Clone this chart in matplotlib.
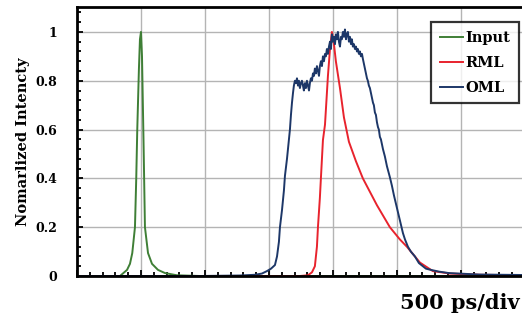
"""Normalized pulse intensity: input vs RML vs OML (500 ps/div)."""

import matplotlib

matplotlib.use("Agg")
import matplotlib.pyplot as plt
from matplotlib.ticker import MultipleLocator

# time in ps, intensity normalized
input_t = [0, 336, 391, 414, 432, 453, 463, 471, 484, 492, 500, 508, 520, 531,
           555, 586, 633, 688, 781, 961, 3500]
input_v = [0, 0, 0.025, 0.05, 0.094, 0.2, 0.4, 0.6, 0.85, 0.97, 1.0, 0.9, 0.55, 0.2,
           0.094, 0.05, 0.025, 0.012, 0.003, 0, 0]

rml_t = [0, 1742, 1805, 1836, 1859, 1875, 1883, 1898, 1906, 1922, 1938, 1961, 1977,
         1992, 2008, 2023, 2055, 2086, 2125, 2180, 2234, 2289, 2344, 2445, 2523,
         2578, 2680, 2781, 2914, 3148, 3500]
rml_v = [0, 0, 0.003, 0.015, 0.04, 0.12, 0.2, 0.32, 0.40, 0.557, 0.62, 0.82, 0.93,
         1.0, 0.95, 0.88, 0.77, 0.65, 0.55, 0.47, 0.40, 0.345, 0.29, 0.2, 0.15,
         0.12, 0.055, 0.02, 0.01, 0.005, 0.003]

oml_t = [0, 961, 1273, 1391, 1445, 1484, 1516, 1547, 1563, 1578, 1586, 1602, 1617,
         1625, 1641, 1656, 1664, 1672, 1680, 1688, 1695,
         1703, 1711, 1719, 1727, 1734, 1742, 1750, 1758, 1766, 1773,
         1781, 1789, 1797, 1805, 1813, 1820, 1828, 1836, 1844, 1852,
         1859, 1867, 1875, 1883, 1891, 1898, 1906, 1914, 1922, 1930,
         1938, 1945, 1953, 1961, 1969, 1977, 1984, 1992, 2000, 2008,
         2016, 2023, 2031, 2039, 2047, 2055, 2063, 2070, 2078, 2086,
         2094, 2102, 2109, 2117, 2125, 2133, 2141, 2148, 2156, 2164,
         2172, 2180, 2188, 2195, 2203, 2211, 2219, 2227, 2234, 2242,
         2250, 2258, 2266, 2273, 2281, 2289, 2297, 2305, 2313, 2320,
         2328, 2336, 2344, 2352, 2359, 2367, 2375, 2383, 2391,
         2406, 2422, 2445, 2461, 2477, 2500, 2523, 2547, 2563, 2586,
         2609, 2641, 2672, 2703, 2727, 2766, 2828, 2906, 2984, 3063,
         3141, 3297, 3500]
oml_v = [0, 0, 0.002, 0.005, 0.01, 0.02, 0.03, 0.045, 0.08, 0.14, 0.2, 0.27, 0.35,
         0.41, 0.48, 0.557, 0.60, 0.66, 0.71, 0.75, 0.78,
         0.80, 0.79, 0.81, 0.78, 0.80, 0.77, 0.79, 0.80, 0.78, 0.76,
         0.79, 0.77, 0.80, 0.78, 0.76, 0.79, 0.81, 0.80, 0.83, 0.82,
         0.85, 0.83, 0.86, 0.84, 0.82, 0.86, 0.88, 0.86, 0.90, 0.88,
         0.91, 0.90, 0.93, 0.91, 0.94, 0.96, 0.93, 0.99, 0.96, 0.98,
         0.95, 0.99, 0.97, 1.0, 0.96, 0.94, 0.98, 0.97, 1.0, 0.98,
         1.01, 0.97, 0.99, 1.0, 0.96, 0.98, 0.95, 0.97, 0.94, 0.95,
         0.93, 0.94, 0.92, 0.93, 0.91, 0.92, 0.90, 0.91, 0.89, 0.87,
         0.85, 0.83, 0.81, 0.80, 0.78, 0.77, 0.75, 0.73, 0.71, 0.70,
         0.67, 0.66, 0.63, 0.61, 0.60, 0.57, 0.56, 0.54, 0.52,
         0.49, 0.45, 0.405, 0.37, 0.33, 0.28, 0.23, 0.176, 0.15, 0.12,
         0.10, 0.08, 0.053, 0.04, 0.03, 0.025, 0.018, 0.012, 0.010, 0.008,
         0.006, 0.005, 0.004]

series = [
    ("Input", input_t, input_v, "#3f7f36"),
    ("RML", rml_t, rml_v, "#e8232d"),
    ("OML", oml_t, oml_v, "#1d3768"),
]

plt.rcParams["font.family"] = "DejaVu Serif"
plt.rcParams["font.weight"] = "bold"

fig = plt.figure(figsize=(5.22, 3.2), dpi=100)
ax = fig.add_axes([0.1475, 0.1375, 0.858, 0.8405])

for name, t, v, c in series:
    ax.plot(t, v, color=c, lw=1.4, label=name)

ax.set_xlim(0, 3500)
ax.set_ylim(0, 1.102)
ax.xaxis.set_major_locator(MultipleLocator(500))
ax.xaxis.set_minor_locator(MultipleLocator(100))
ax.yaxis.set_major_locator(MultipleLocator(0.2))
ax.yaxis.set_minor_locator(MultipleLocator(0.04))
ax.set_yticks([0, 0.2, 0.4, 0.6, 0.8, 1.0], ["0", "0.2", "0.4", "0.6", "0.8", "1"])
ax.set_xticklabels([])
ax.grid(True, which="major", color="#b4b4b4", lw=1.0)
ax.set_axisbelow(True)

for s in ax.spines.values():
    s.set_linewidth(2.0)
ax.tick_params(which="both", direction="in", width=1.3, top=False, right=False)
ax.tick_params(which="major", length=4)
ax.tick_params(which="minor", length=3)
ax.tick_params(axis="y", labelsize=9, pad=14)
ax.tick_params(axis="x", which="both", labelbottom=False)

ax.set_ylabel("Nomarlized Intencty", fontsize=10.5, fontweight="bold", labelpad=4)
fig.text(0.995, 0.035, "500 ps/div", ha="right", va="baseline",
         fontsize=15, fontweight="bold")

leg = ax.legend(loc="upper right", bbox_to_anchor=(0.987, 0.944), frameon=True,
                fancybox=False, edgecolor="black", handlelength=1.6,
                handletextpad=0.15, borderpad=0.6, labelspacing=0.75,
                borderaxespad=0, prop={"size": 10.5, "weight": "bold"})
leg.get_frame().set_linewidth(1.6)

fig.savefig("out.png", dpi=100)
